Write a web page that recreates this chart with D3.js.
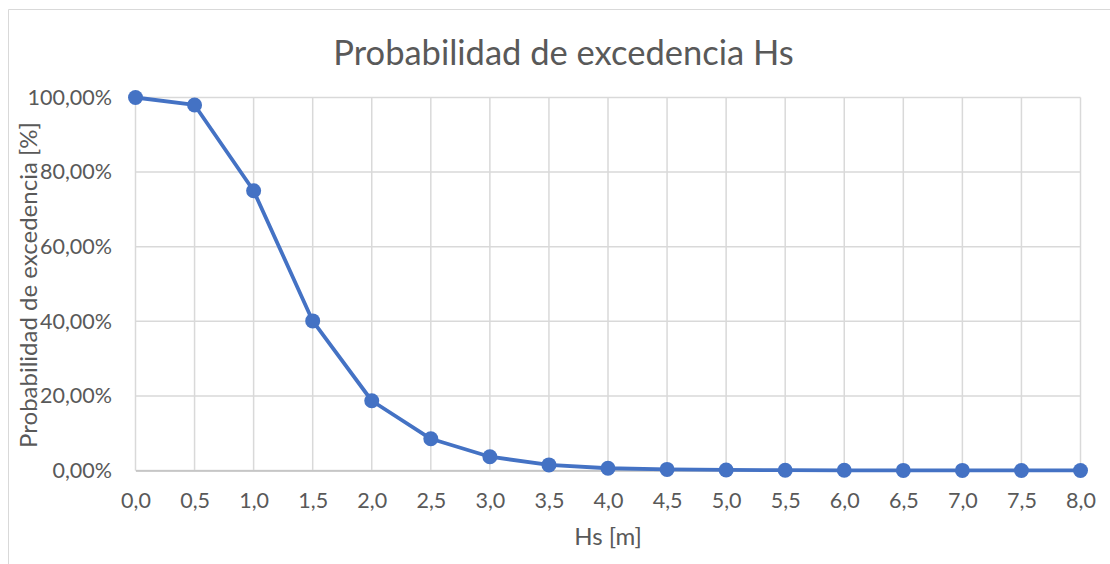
<!DOCTYPE html>
<html><head><meta charset="utf-8">
<script src="https://cdn.jsdelivr.net/npm/d3@7"></script>
<style>
html,body{margin:0;padding:0;background:#fff;}
svg{display:block;font-family:Lato, "Open Sans", sans-serif;}
</style></head>
<body>
<svg id="c" width="1110" height="564"></svg>
<script>
const categories = ["0,0","0,5","1,0","1,5","2,0","2,5","3,0","3,5","4,0","4,5","5,0","5,5","6,0","6,5","7,0","7,5","8,0"];
const values = [1.0, 0.98, 0.75, 0.401, 0.187, 0.085, 0.037, 0.015, 0.006, 0.003, 0.0015, 0.0008, 0.0005, 0.0003, 0.0002, 0.0001, 0.0001];
const yTicks = [0, 0.2, 0.4, 0.6, 0.8, 1.0];
const titleText = "Probabilidad de excedencia Hs";
const xTitle = "Hs [m]";
const yTitle = "Probabilidad de excedencia [%]";

const svg = d3.select("#c");
const L = 135.5, R = 1080.5, T = 97.5, B = 470.5;
const x = d3.scalePoint().domain(categories).range([L, R]);
const y = d3.scaleLinear().domain([0, 1]).range([B, T]);
const fmt = v => d3.format(".2f")(v*100).replace(".", ",") + "%";

// outer border
svg.append("path").attr("d","M8.5,564 L8.5,9.5 L1110,9.5").attr("fill","none").attr("stroke","#d9d9d9").attr("stroke-width",1);

// grid
const grid = svg.append("g");
grid.selectAll(".h").data(yTicks).join("line")
  .attr("x1", L).attr("x2", R).attr("y1", d=>y(d)).attr("y2", d=>y(d))
  .attr("stroke", "#d9d9d9").attr("stroke-width", 1.5);
grid.selectAll(".v").data(categories).join("line")
  .attr("x1", d=>x(d)).attr("x2", d=>x(d)).attr("y1", T).attr("y2", B)
  .attr("stroke", "#d9d9d9").attr("stroke-width", 1.5);

// axes
const yAxis = svg.append("g").attr("transform", `translate(${L},0)`)
  .call(d3.axisLeft(y).tickValues(yTicks).tickFormat(fmt).tickSize(0).tickPadding(23.5));
yAxis.select(".domain").remove();
yAxis.selectAll("text").attr("fill","#595959").style("font-size","21.5px").style("font-family","Lato, sans-serif");

const xAxis = svg.append("g").attr("transform", `translate(0,${B})`)
  .call(d3.axisBottom(x).tickSize(0).tickPadding(22));
xAxis.select(".domain").attr("stroke","#bfbfbf").attr("stroke-width",1.5);
xAxis.selectAll("text").attr("fill","#595959").style("font-size","21.5px").style("font-family","Lato, sans-serif");

// line
const line = d3.line().x((d,i)=>x(categories[i])).y(d=>y(d));
svg.append("path").datum(values).attr("d", line).attr("fill","none")
  .attr("stroke","#4472c4").attr("stroke-width",3.8).attr("stroke-linejoin","round");
svg.selectAll(".pt").data(values).join("circle")
  .attr("cx",(d,i)=>x(categories[i])).attr("cy",d=>y(d)).attr("r",7.5)
  .attr("fill","#4472c4");

// titles
svg.append("text").attr("x",563.5).attr("y",65).attr("text-anchor","middle")
  .attr("fill","#595959").style("font-size","34.5px").text(titleText);
svg.append("text").attr("x",608).attr("y",545).attr("text-anchor","middle")
  .attr("fill","#595959").style("font-size","24px").text(xTitle);
svg.append("text").attr("transform","translate(37,285) rotate(-90)").attr("text-anchor","middle")
  .attr("fill","#595959").style("font-size","24px").text(yTitle);
</script>
</body></html>
